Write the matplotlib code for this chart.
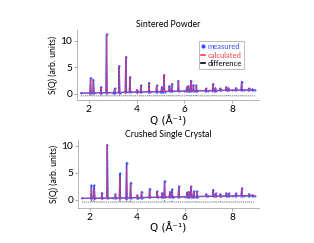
import numpy as np
import matplotlib.pyplot as plt
from matplotlib.lines import Line2D

plt.rcParams['font.family'] = ['Lato', 'DejaVu Sans']

# baseline knots (Q, S) for each sample
q_base = [1.66, 2.0, 2.5, 3.0, 3.5, 4.0, 4.5, 5.0, 5.5, 6.0, 6.5, 7.0, 7.5, 8.0, 8.5, 8.95]
base_sint = [0.15, 0.15, 0.2, 0.22, 0.28, 0.32, 0.38, 0.42, 0.48, 0.52, 0.56, 0.6, 0.64, 0.68, 0.7, 0.75]
base_crush = [0.3, 0.3, 0.32, 0.35, 0.38, 0.42, 0.46, 0.5, 0.54, 0.58, 0.62, 0.66, 0.7, 0.74, 0.78, 0.8]

# Bragg peak positions
peak_q = [2.07, 2.19, 2.50, 2.74, 3.08, 3.27, 3.55, 3.72, 4.00, 4.18, 4.52, 4.84,
          5.05, 5.15, 5.37, 5.47, 5.75, 6.10, 6.17, 6.27, 6.38, 6.50, 6.90, 7.20,
          7.30, 7.50, 7.75, 7.85, 8.15, 8.40, 8.70, 8.85]

# sintered powder: foot level, measured top, calculated top
foot_sint = [0.15, 0.17, 0.2, 0.2, 0.22, 0.24, 0.28, 0.3, 0.32, 0.33, 0.38, 0.4,
             0.42, 0.42, 0.46, 0.47, 0.5, 0.52, 0.53, 0.54, 0.55, 0.56, 0.59, 0.61,
             0.62, 0.64, 0.66, 0.67, 0.69, 0.7, 0.72, 0.74]
meas_sint = [3.0, 2.7, 1.3, 11.3, 1.0, 5.3, 7.0, 3.2, 0.8, 1.6, 2.1, 1.6,
             1.3, 3.6, 1.5, 1.9, 2.5, 1.3, 1.5, 2.5, 1.7, 1.6, 1.0, 1.9,
             1.1, 1.0, 1.3, 1.1, 1.1, 2.3, 1.0, 0.9]
calc_sint = [2.8, 2.6, 1.2, 11.2, 0.9, 5.2, 6.9, 3.1, 0.8, 1.5, 2.0, 1.5,
             1.2, 3.5, 1.4, 1.8, 2.4, 1.2, 1.4, 2.4, 1.6, 1.5, 1.0, 1.8,
             1.0, 1.0, 1.2, 1.0, 1.0, 2.2, 1.0, 0.9]

# crushed single crystal
foot_crush = [0.3, 0.31, 0.32, 0.33, 0.35, 0.37, 0.38, 0.39, 0.42, 0.43, 0.46, 0.48,
              0.5, 0.5, 0.53, 0.54, 0.56, 0.59, 0.59, 0.6, 0.61, 0.62, 0.65, 0.68,
              0.69, 0.7, 0.72, 0.73, 0.75, 0.77, 0.79, 0.8]
meas_crush = [2.7, 2.7, 1.3, 10.2, 1.1, 4.9, 6.9, 3.2, 0.9, 1.5, 2.1, 1.6,
              1.3, 3.5, 1.5, 2.0, 2.5, 1.4, 1.5, 2.5, 1.6, 1.6, 1.1, 1.9,
              1.2, 1.1, 1.3, 1.2, 1.2, 2.2, 1.1, 0.9]
calc_crush = [2.2, 2.0, 1.2, 10.2, 1.0, 4.4, 6.0, 2.9, 0.9, 1.4, 2.0, 1.5,
              1.2, 3.2, 1.4, 1.8, 2.4, 1.3, 1.4, 2.5, 1.5, 1.5, 1.0, 1.8,
              1.1, 1.0, 1.2, 1.1, 1.1, 2.1, 1.0, 0.9]

diff_offset = -0.4
half_width = 0.025


def build(base, foot, top):
    # baseline knots plus a (foot, top, foot) triple for each peak, ordered in Q
    pts = [(q, s) for q, s in zip(q_base, base)]
    for q, f, t in zip(peak_q, foot, top):
        pts += [(q - half_width, f), (q, t), (q + half_width, f)]
    pts.sort()
    return np.array([p[0] for p in pts]), np.array([p[1] for p in pts])


def draw(ax, base, foot, meas, calc, title, ylim):
    xm, ym = build(base, foot, meas)
    xc, yc = build(base, foot, calc)
    ax.plot(xm, ym, color='#3a4cff', lw=1.0, marker='.', ms=0.9, zorder=2)
    ax.plot(xc, yc, color='#ff3a4a', lw=0.8, ls=(0, (2, 1.5)), alpha=0.85, zorder=3)
    ax.plot(xm, ym - yc + diff_offset, color='#555555', lw=0.5, ls=(0, (2, 1)), zorder=1)
    ax.set_xlim(1.5, 9.13)
    ax.set_ylim(*ylim)
    ax.set_xticks([2, 4, 6, 8])
    ax.set_yticks([0, 5, 10])
    for s in ['top', 'right']:
        ax.spines[s].set_visible(False)
    for s in ['left', 'bottom']:
        ax.spines[s].set_color('#aaaaaa')
        ax.spines[s].set_linewidth(0.6)
    ax.tick_params(labelsize=7.3, length=2, width=0.5, color='#888888', pad=1.5)
    ax.set_title(title, fontsize=6.3, pad=2)
    ax.set_ylabel('S(Q) (arb. units)', fontsize=6.2, labelpad=1.5)
    ax.set_xlabel('Q (Å⁻¹)', fontsize=7.5, labelpad=0.5,
                  family=['DejaVu Sans'])


fig = plt.figure(figsize=(3.14, 2.43), dpi=100)
ax1 = fig.add_axes([0.245, 0.588, 0.58, 0.289])
ax2 = fig.add_axes([0.248, 0.144, 0.577, 0.28])

draw(ax1, base_sint, foot_sint, meas_sint, calc_sint, 'Sintered Powder', (-1.2, 12.1))
draw(ax2, base_crush, foot_crush, meas_crush, calc_crush, 'Crushed Single Crystal', (-1.5, 11.1))

handles = [Line2D([], [], color='#3a4cff', marker='.', ls='none', ms=4),
           Line2D([], [], color='#ff3a4a', lw=1.2),
           Line2D([], [], color='black', lw=1.2)]
leg = ax1.legend(handles, ['measured', 'calculated', 'difference'],
                 loc='upper right', bbox_to_anchor=(0.94, 0.9), fontsize=5.5,
                 handlelength=0.5, handletextpad=0.4, borderpad=0.3,
                 labelspacing=0.2, fancybox=False, edgecolor='#888888')
leg.get_frame().set_linewidth(0.5)
for txt, c in zip(leg.get_texts(), ['#3a4cff', '#ff3a4a', 'black']):
    txt.set_color(c)

fig.savefig('out.png', dpi=100)
